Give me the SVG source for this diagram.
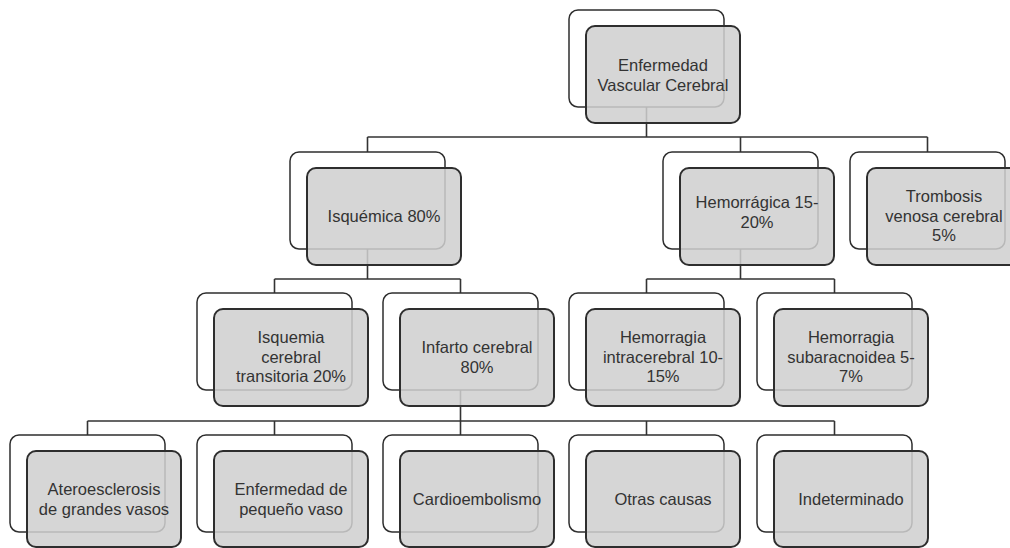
<svg xmlns="http://www.w3.org/2000/svg" width="1010" height="548" viewBox="0 0 1010 548">
<style>
.bk{fill:#ffffff;stroke:#2e2e2e;stroke-width:1.5}
.fr{fill:#cfcfcf;fill-opacity:0.86;stroke:#2e2e2e;stroke-width:2}
.cn{fill:none;stroke:#333333;stroke-width:1.6}
text{font-family:"Liberation Sans",Arial,sans-serif;font-size:16.5px;fill:#333333;text-anchor:middle}
</style>
<rect width="1010" height="548" fill="#ffffff"/>
<g id="connectors">
<path class="cn" d="M646.5,107 V137 M367.5,137 H927.5 M367.5,137 V152 M740.5,137 V152 M927.5,137 V152"/>
<path class="cn" d="M367.5,249 V279 M274.5,279 H460.5 M274.5,279 V293 M460.5,279 V293"/>
<path class="cn" d="M740.5,249 V279 M646.5,279 H834.5 M646.5,279 V293 M834.5,279 V293"/>
<path class="cn" d="M460.5,390 V421 M87.5,421 H834.5 M87.5,421 V435 M274.5,421 V435 M460.5,421 V435 M646.5,421 V435 M834.5,421 V435"/>
</g>
<g id="n-evc">
<rect class="bk" x="569" y="10" width="155" height="97" rx="9"/>
<rect class="fr" x="586" y="26" width="154" height="97" rx="9"/>
<text x="663" y="71">Enfermedad</text>
<text x="663" y="91">Vascular Cerebral</text>
</g>
<g id="n-isquemica">
<rect class="bk" x="290" y="152" width="155" height="97" rx="9"/>
<rect class="fr" x="307" y="168" width="154" height="97" rx="9"/>
<text x="384" y="222">Isquémica 80%</text>
</g>
<g id="n-hemorragica">
<rect class="bk" x="663" y="152" width="155" height="97" rx="9"/>
<rect class="fr" x="680" y="168" width="154" height="97" rx="9"/>
<text x="757" y="208">Hemorrágica 15-</text>
<text x="757" y="228">20%</text>
</g>
<g id="n-trombosis">
<rect class="bk" x="850" y="152" width="155" height="97" rx="9"/>
<rect class="fr" x="867" y="168" width="154" height="97" rx="9"/>
<text x="944" y="202">Trombosis</text>
<text x="944" y="222">venosa cerebral</text>
<text x="944" y="241">5%</text>
</g>
<g id="n-ait">
<rect class="bk" x="197" y="293" width="155" height="97" rx="9"/>
<rect class="fr" x="214" y="309" width="154" height="97" rx="9"/>
<text x="291" y="343">Isquemia</text>
<text x="291" y="363">cerebral</text>
<text x="291" y="382">transitoria 20%</text>
</g>
<g id="n-infarto">
<rect class="bk" x="383" y="293" width="155" height="97" rx="9"/>
<rect class="fr" x="400" y="309" width="154" height="97" rx="9"/>
<text x="477" y="353">Infarto cerebral</text>
<text x="477" y="373">80%</text>
</g>
<g id="n-hic">
<rect class="bk" x="569" y="293" width="155" height="97" rx="9"/>
<rect class="fr" x="586" y="309" width="154" height="97" rx="9"/>
<text x="663" y="343">Hemorragia</text>
<text x="663" y="363">intracerebral 10-</text>
<text x="663" y="382">15%</text>
</g>
<g id="n-hsa">
<rect class="bk" x="757" y="293" width="155" height="97" rx="9"/>
<rect class="fr" x="774" y="309" width="154" height="97" rx="9"/>
<text x="851" y="343">Hemorragia</text>
<text x="851" y="363">subaracnoidea 5-</text>
<text x="851" y="382">7%</text>
</g>
<g id="n-atero">
<rect class="bk" x="10" y="435" width="155" height="97" rx="9"/>
<rect class="fr" x="27" y="451" width="154" height="96" rx="9"/>
<text x="104" y="495">Ateroesclerosis</text>
<text x="104" y="515">de grandes vasos</text>
</g>
<g id="n-pequeno">
<rect class="bk" x="197" y="435" width="155" height="97" rx="9"/>
<rect class="fr" x="214" y="451" width="154" height="96" rx="9"/>
<text x="291" y="495">Enfermedad de</text>
<text x="291" y="515">pequeño vaso</text>
</g>
<g id="n-cardio">
<rect class="bk" x="383" y="435" width="155" height="97" rx="9"/>
<rect class="fr" x="400" y="451" width="154" height="96" rx="9"/>
<text x="477" y="505">Cardioembolismo</text>
</g>
<g id="n-otras">
<rect class="bk" x="569" y="435" width="155" height="97" rx="9"/>
<rect class="fr" x="586" y="451" width="154" height="96" rx="9"/>
<text x="663" y="505">Otras causas</text>
</g>
<g id="n-indet">
<rect class="bk" x="757" y="435" width="155" height="97" rx="9"/>
<rect class="fr" x="774" y="451" width="154" height="96" rx="9"/>
<text x="851" y="505">Indeterminado</text>
</g>
</svg>
